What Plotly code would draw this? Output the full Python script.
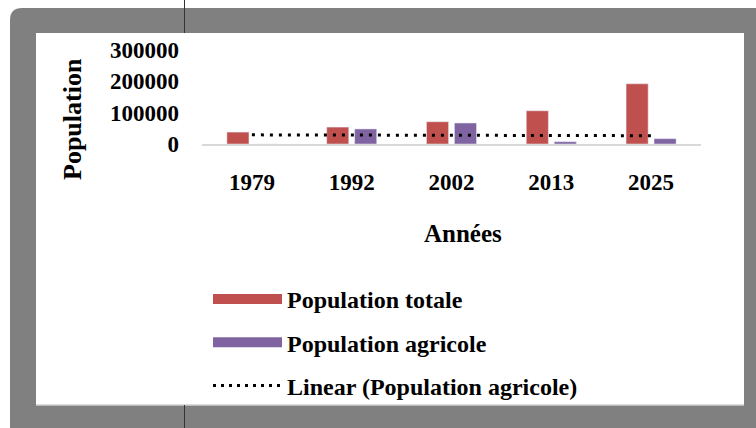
import numpy as np
import plotly.graph_objects as go

# ---- data ----
years = ["1979", "1992", "2002", "2013", "2025"]
pop_totale = [38000, 54000, 71000, 106000, 192000]
pop_agricole = [0, 48000, 67000, 7300, 17000]
y_ticks = [0, 100000, 200000, 300000]

RED = "#C0504D"
PURPLE = "#8064A2"
FONT = "Liberation Serif"

W, H = 756, 428
L, R, T, B = 202, 55, 50, 284
PW, PH = W - L - R, H - T - B


def px(x):
    return (x - L) / PW


def py(y):
    return (H - B - y) / PH


# linear trend of agricultural population
xi = np.arange(1, len(years) + 1)
coef = np.polyfit(xi, pop_agricole, 1)
trend = np.polyval(coef, xi)

fig = go.Figure()
fig.add_trace(go.Bar(x=years, y=pop_totale, name="Population totale",
                     marker=dict(color=RED), showlegend=False))
fig.add_trace(go.Bar(x=years, y=pop_agricole, name="Population agricole",
                     marker=dict(color=PURPLE), showlegend=False))
fig.add_trace(go.Scatter(x=years, y=trend, mode="lines", showlegend=False,
                         name="Linear (Population agricole)",
                         line=dict(color="black", width=3, dash="3px,6px")))
# legend entries
fig.add_trace(go.Scatter(x=[None], y=[None], mode="lines", name="Population totale",
                         line=dict(color=RED, width=12), legendgroup="a"))
fig.add_trace(go.Scatter(x=[None], y=[None], mode="lines", name="Population agricole",
                         line=dict(color=PURPLE, width=12), legendgroup="b"))
fig.add_trace(go.Scatter(x=[None], y=[None], mode="lines",
                         name="Linear (Population agricole)",
                         line=dict(color="black", width=3, dash="3px,5px"), legendgroup="c"))

shapes = [
    # gray frame with rounded top-left corner
    dict(type="path", xref="paper", yref="paper", layer="below",
         path=(f"M {px(10)},{py(20)} Q {px(10)},{py(8)} {px(22)},{py(8)} "
               f"L {px(760)},{py(8)} L {px(760)},{py(432)} L {px(10)},{py(432)} Z"),
         fillcolor="#808080", line=dict(width=0)),
    # white panel
    dict(type="rect", xref="paper", yref="paper", layer="below",
         x0=px(36), x1=px(744), y0=py(33), y1=py(405),
         fillcolor="white", line=dict(width=0)),
    dict(type="line", xref="paper", yref="paper", layer="below",
         x0=px(36), x1=px(744), y0=py(405), y1=py(405),
         line=dict(color="#d0d0d0", width=1.5)),
    # dark vertical line segments
    dict(type="line", xref="paper", yref="paper", layer="below",
         x0=px(184.5), x1=px(184.5), y0=py(0), y1=py(33),
         line=dict(color="#333333", width=1)),
    dict(type="line", xref="paper", yref="paper", layer="below",
         x0=px(184.5), x1=px(184.5), y0=py(405), y1=py(428),
         line=dict(color="#333333", width=1)),
]

fig.update_layout(
    width=W, height=H,
    margin=dict(l=L, r=R, t=T, b=B, pad=0),
    paper_bgcolor="white", plot_bgcolor="white",
    barmode="group", bargap=0.44, bargroupgap=0.21,
    font=dict(family=FONT, color="black"),
    shapes=shapes,
    showlegend=True,
    legend=dict(x=px(208), y=py(277), xanchor="left", yanchor="top",
                bgcolor="rgba(0,0,0,0)", itemwidth=69,
                font=dict(family=FONT, size=24, weight="bold", color="black"),
                traceorder="grouped", tracegroupgap=9),
    xaxis=dict(type="category", range=[-0.5, 4.5], showgrid=False,
               showline=True, linecolor="#d9d9d9", linewidth=2,
               ticks="", ticklabelstandoff=16,
               tickfont=dict(family=FONT, size=23, weight="bold", color="black")),
    yaxis=dict(range=[0, 300000], tickvals=y_ticks, tickformat="d", showgrid=False,
               zeroline=False, showline=False, ticks="", ticklabelstandoff=22,
               tickfont=dict(family=FONT, size=23, weight="bold", color="black")),
    annotations=[
        dict(text="Population", xref="paper", yref="paper", x=px(72), y=py(119),
             textangle=-90, showarrow=False, xanchor="center", yanchor="middle",
             font=dict(family=FONT, size=26, weight="bold", color="black")),
        dict(text="Années", xref="paper", yref="paper", x=px(463), y=py(233),
             showarrow=False, xanchor="center", yanchor="middle",
             font=dict(family=FONT, size=25, weight="bold", color="black")),
    ],
)

fig.write_html("out.html", config={"displayModeBar": False},
               post_script="document.body.style.margin='0';")
